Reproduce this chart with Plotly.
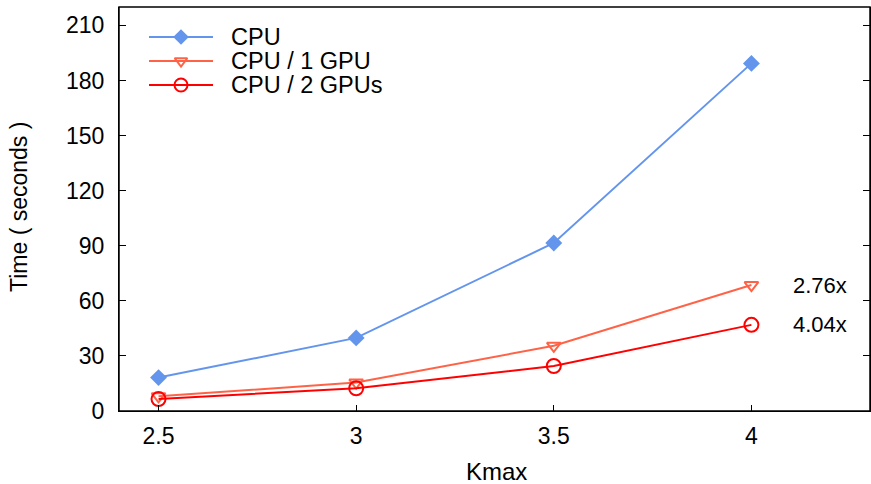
import plotly.graph_objects as go

kmax = [2.5, 3, 3.5, 4]
cpu = [18.2, 39.8, 91.5, 189.3]
gpu1 = [8.0, 15.5, 35.5, 68.6]
gpu2 = [6.5, 12.4, 24.5, 46.9]
speedups = ["2.76x", "4.04x"]
y_ticks = [0, 30, 60, 90, 120, 150, 180, 210]
x_tick_text = ["2.5", "3", "3.5", "4"]
series_names = ["CPU", "CPU / 1 GPU", "CPU / 2 GPUs"]
colors = ["#6495ED", "#FF6347", "#FF0000"]
symbols = ["diamond", "triangle-down-open", "circle-open"]
msizes = [13, 12, 14]
mlines = [0, 2, 2]

font_family = "Liberation Sans, Arial, sans-serif"
L, R, T, B = 119, 1, 7, 73
W, H = 871, 484
pw, ph = W - L - R, H - T - B


def px(x):
    return (x - L) / pw


def py(y):
    return (H - B - y) / ph


fig = go.Figure()
for name, ys, c, s, ms, lw in zip(series_names, [cpu, gpu1, gpu2], colors, symbols, msizes, mlines):
    fig.add_trace(go.Scatter(x=kmax, y=ys, name=name, mode="lines+markers",
                             line=dict(color=c, width=2), showlegend=False,
                             marker=dict(symbol=s, size=ms, color=c, line=dict(width=lw, color=c))))

# manual legend drawn on a pixel-space overlay axis
leg_rows = [37, 61, 85]
for name, c, s, ms, lw, ry in zip(series_names, colors, symbols, msizes, mlines, leg_rows):
    fig.add_trace(go.Scatter(x=[149, 213], y=[ry, ry], mode="lines", xaxis="x2", yaxis="y2",
                             line=dict(color=c, width=2), showlegend=False, hoverinfo="skip"))
    fig.add_trace(go.Scatter(x=[181], y=[ry], mode="markers", xaxis="x2", yaxis="y2",
                             marker=dict(symbol=s, size=ms - 1, color=c, line=dict(width=lw, color=c)),
                             showlegend=False, hoverinfo="skip"))
    fig.add_annotation(xref="paper", yref="paper", x=px(229), y=py(ry), text=name, showarrow=False,
                       xanchor="left", yanchor="middle", font=dict(size=23.5))

for val, txt in zip([gpu1[-1], gpu2[-1]], speedups):
    fig.add_annotation(x=4.1, y=val, text=txt, showarrow=False, xanchor="left",
                       yanchor="middle", font=dict(size=22, color="black"))

# axis titles
fig.add_annotation(xref="paper", yref="paper", x=px(19), y=py(207),
                   text="Time ( seconds )", textangle=-90, showarrow=False,
                   xanchor="center", yanchor="middle", font=dict(size=23))
fig.add_annotation(xref="paper", yref="paper", x=px(496), y=py(472),
                   text="Kmax", showarrow=False,
                   xanchor="center", yanchor="middle", font=dict(size=24))

fig.add_shape(type="rect", xref="paper", yref="paper", x0=0, x1=1, y0=0, y1=1,
              line=dict(color="black", width=1.5), layer="above")

fig.update_layout(
    width=W, height=H,
    margin=dict(l=L, r=R, t=T, b=B),
    paper_bgcolor="white", plot_bgcolor="white",
    font=dict(family=font_family, size=22, color="black"),
    showlegend=False,
    xaxis=dict(range=[2.4, 4.3], tickvals=kmax, ticktext=x_tick_text,
               ticks="inside", ticklen=6, tickcolor="black", showgrid=False,
               zeroline=False, showline=True, linecolor="black", automargin=False,
               tickfont=dict(size=23), ticklabelstandoff=4),
    yaxis=dict(range=[0, 220], tickvals=y_ticks,
               ticks="inside", ticklen=7, tickcolor="black", showgrid=False,
               zeroline=False, showline=True, linecolor="black", mirror="ticks",
               automargin=False, tickfont=dict(size=23), ticklabelstandoff=9),
    xaxis2=dict(range=[L, W - R], overlaying="x", visible=False, fixedrange=True),
    yaxis2=dict(range=[H - B, T], overlaying="y", visible=False, fixedrange=True),
)

fig.write_html("out.html", config={"displayModeBar": False},
               post_script="document.body.style.margin='0';document.body.style.overflow='hidden';")
